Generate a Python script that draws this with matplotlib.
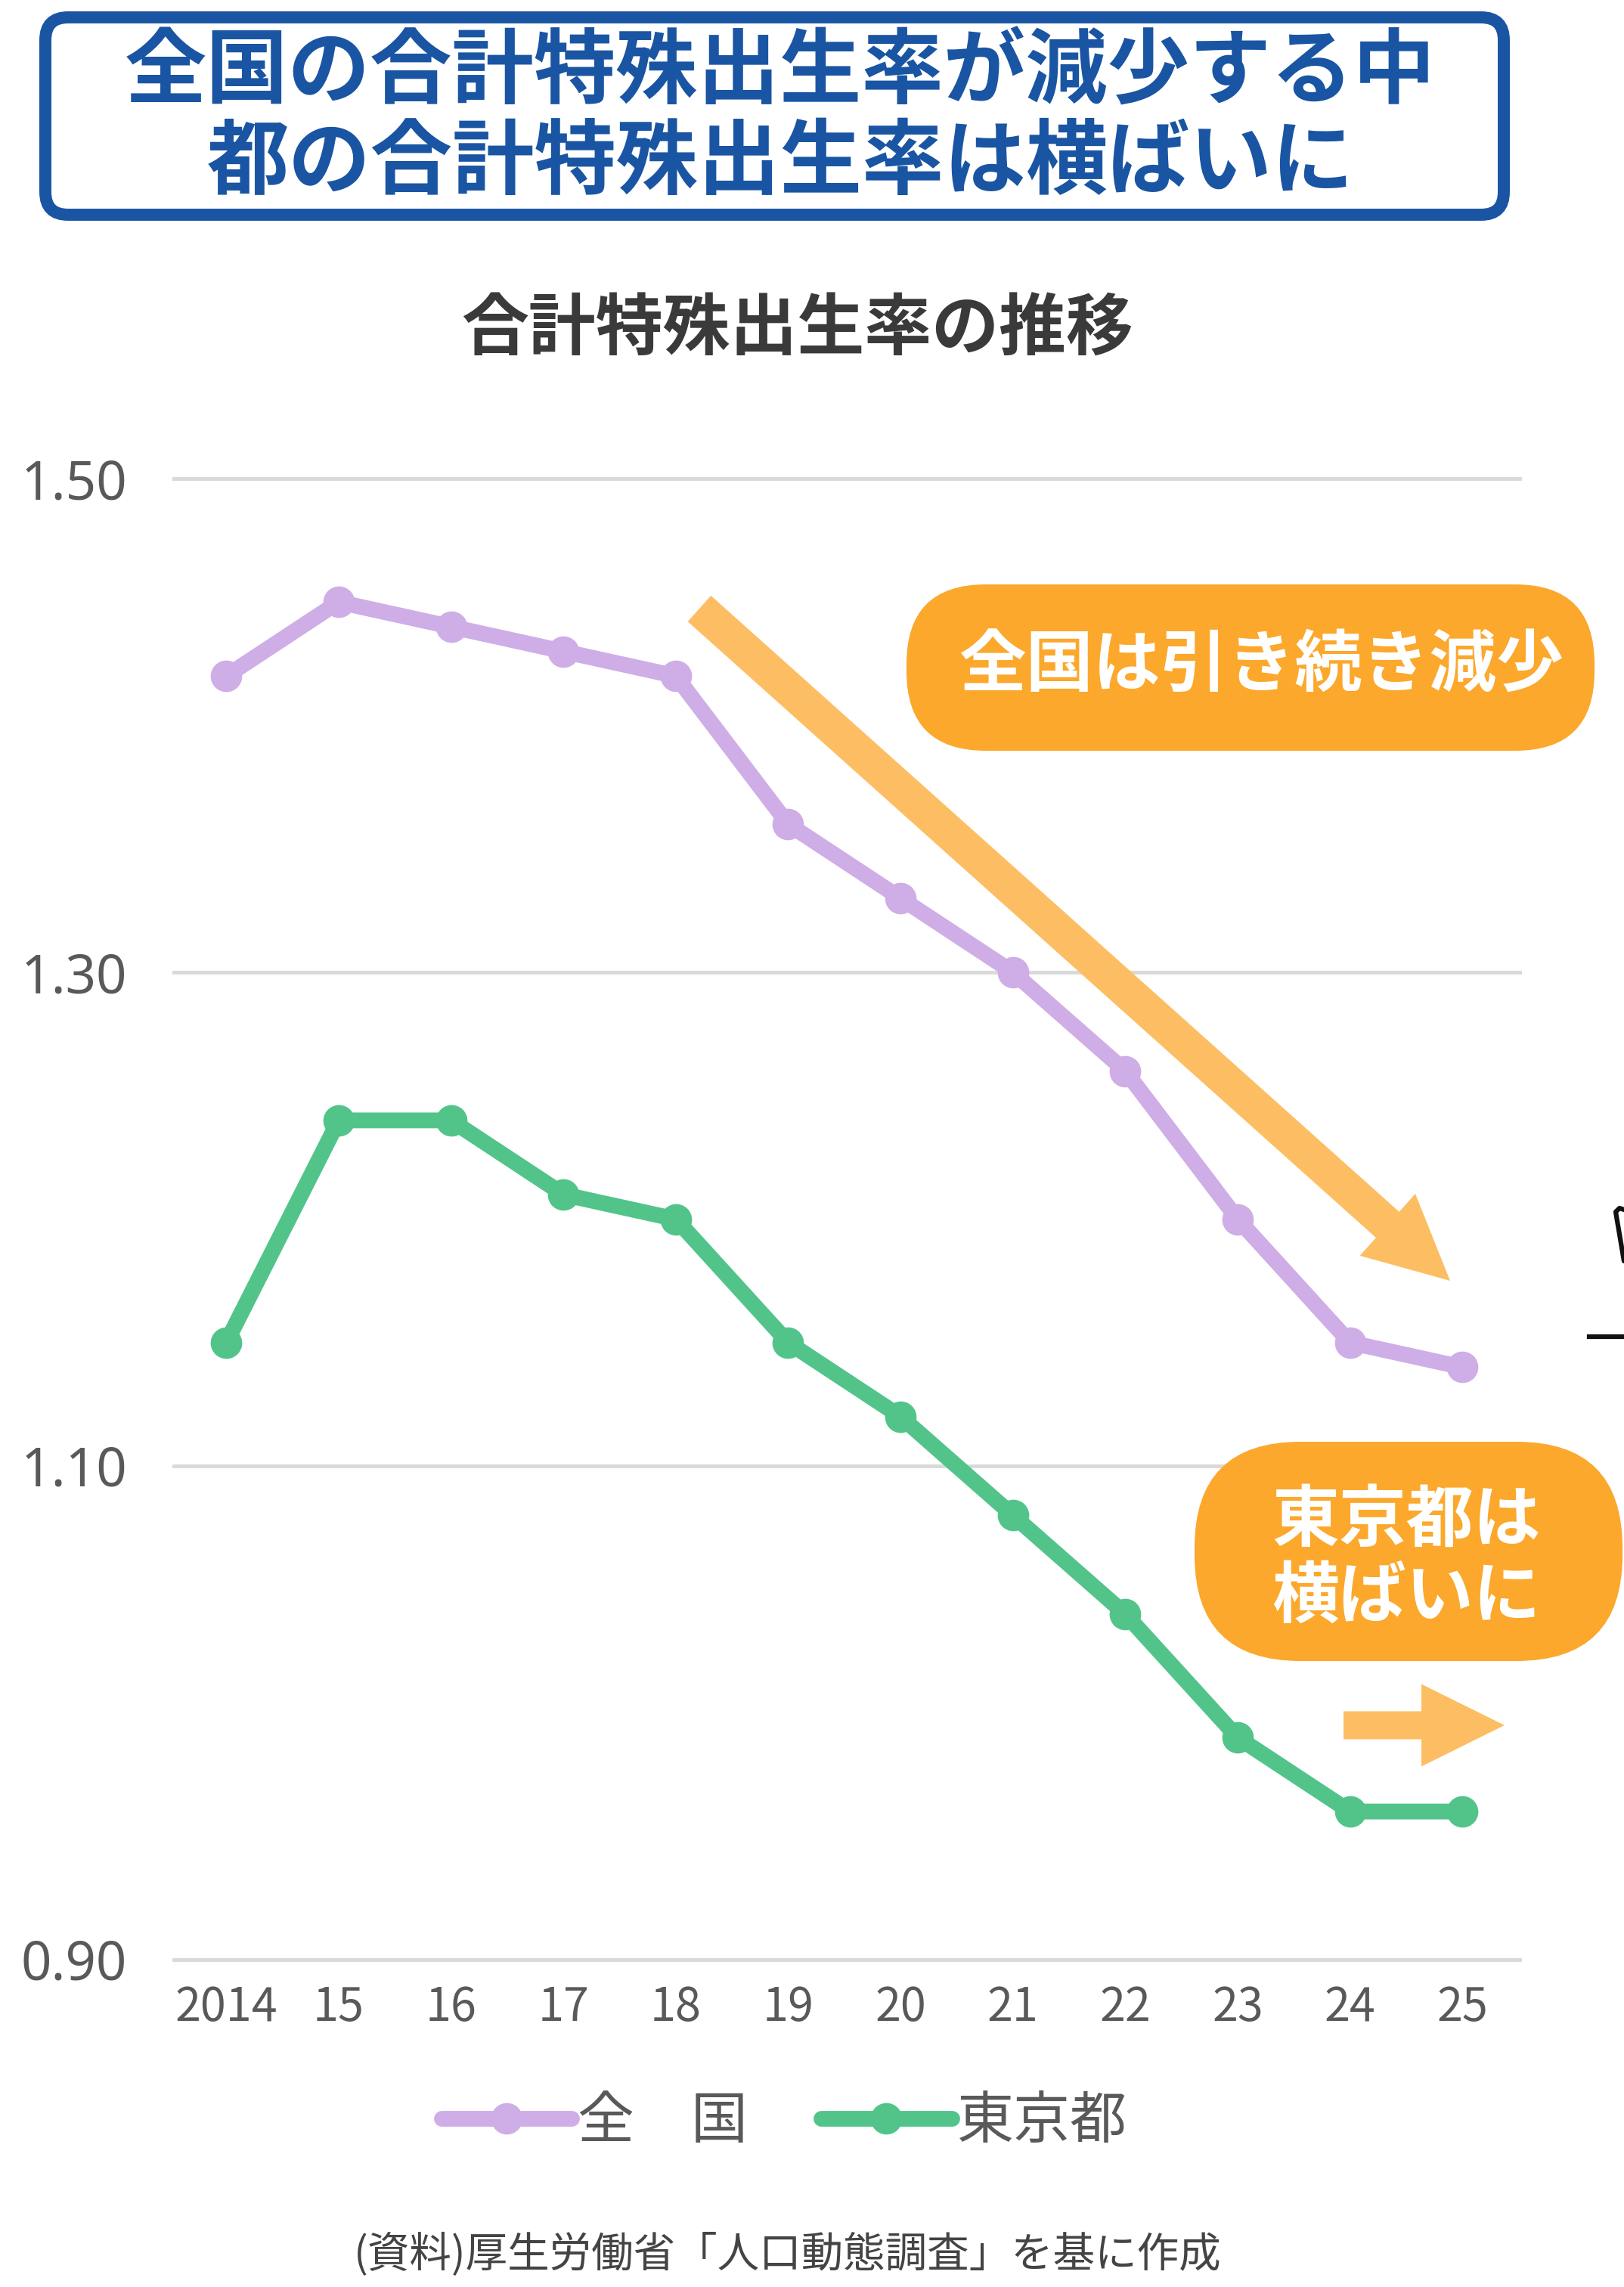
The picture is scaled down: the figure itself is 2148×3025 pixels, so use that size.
import matplotlib
matplotlib.use("Agg")
from matplotlib import pyplot as plt
from matplotlib.patches import FancyBboxPatch, FancyArrow

plt.rcParams["font.family"] = ["Noto Sans CJK JP", "DejaVu Sans"]

# data
YEARS = ["2014", "15", "16", "17", "18", "19", "20", "21", "22", "23", "24", "25"]
ZENKOKU = [1.42, 1.45, 1.44, 1.43, 1.42, 1.36, 1.33, 1.30, 1.26, 1.20, 1.15, 1.14]
TOKYO = [1.15, 1.24, 1.24, 1.21, 1.20, 1.15, 1.12, 1.08, 1.04, 0.99, 0.96, 0.96]
Y_TICKS = [0.90, 1.10, 1.30, 1.50]

TITLE = ["全国の合計特殊出生率が減少する中", "都の合計特殊出生率は横ばいに"]
SUBTITLE = "合計特殊出生率の推移"
SOURCE = "(資料)厚生労働省「人口動態調査」を基に作成"

PURPLE = "#cfade6"
GREEN = "#52c48a"
ORANGE = "#fba82c"
ARROW = "#fdbe63"
BLUE = "#1a55a3"
GREY = "#595959"

W, H = 2148, 3025
fig = plt.figure(figsize=(W / 100, H / 100), dpi=100)
fig.patch.set_facecolor("white")

# main chart
ax = fig.add_axes([0.10615, 0.13775, 0.83101, 0.65838])
x = list(range(len(YEARS)))
l1, = ax.plot(x, ZENKOKU, color=PURPLE, lw=15, marker="o", ms=29,
              solid_capstyle="round", solid_joinstyle="round", zorder=3)
l2, = ax.plot(x, TOKYO, color=GREEN, lw=15, marker="o", ms=29,
              solid_capstyle="round", solid_joinstyle="round", zorder=3)
ax.set_xlim(-0.48, 11.53)
ax.set_ylim(0.895, 1.505)
ax.set_yticks(Y_TICKS)
ax.set_yticklabels(["%.2f" % v for v in Y_TICKS], fontsize=51, color=GREY,
                   family=["Noto Sans", "DejaVu Sans"])
ax.set_xticks(x)
ax.set_xticklabels(YEARS, fontsize=44, color=GREY)
ax.tick_params(axis="y", length=0, pad=43)
ax.tick_params(axis="x", length=0, pad=12)
ax.grid(axis="y", color="#d9d9d9", lw=3.5)
ax.set_axisbelow(True)
for s in ax.spines.values():
    s.set_visible(False)

fig.legend([l1, l2], ["全　国", "東京都"], loc="center",
           bbox_to_anchor=(0.483, 0.0721), ncol=2, frameon=False,
           fontsize=54, handlelength=2.3, handletextpad=0.1,
           columnspacing=1.3, labelcolor=GREY)

# overlay in pixel coordinates for boxes, arrows and texts
ov = fig.add_axes([0, 0, 1, 1])
ov.set_xlim(0, W)
ov.set_ylim(H, 0)
ov.axis("off")

ov.add_patch(FancyBboxPatch((60, 23), 1929, 261, boxstyle="round,pad=0,rounding_size=30",
                            fc="white", ec=BLUE, lw=11.5))
ov.text(1032, 97, TITLE[0], ha="center", va="center", fontsize=78,
        fontweight="bold", color=BLUE)
ov.text(1032, 217, TITLE[1], ha="center", va="center", fontsize=78,
        fontweight="bold", color=BLUE)

ov.text(1055, 437, SUBTITLE, ha="center", va="center", fontsize=64,
        fontweight="bold", color="#3a3a3a")

ov.add_patch(FancyArrow(925, 805, 993, 889, width=46, head_width=110, head_length=111,
                        length_includes_head=True, color=ARROW, lw=0))
ov.add_patch(FancyArrow(1777, 2282, 213, 0, width=37, head_width=109, head_length=110,
                        length_includes_head=True, color=ARROW, lw=0))

ov.add_patch(FancyBboxPatch((1199, 773), 910, 220, boxstyle="round,pad=0,rounding_size=105",
                            fc=ORANGE, ec="none"))
ov.text(1668, 882, "全国は引き続き減少", ha="center", va="center", fontsize=64,
        fontweight="bold", color="white")

ov.add_patch(FancyBboxPatch((1580, 1907), 566, 290, boxstyle="round,pad=0,rounding_size=140",
                            fc=ORANGE, ec="none"))
ov.text(1860, 2012, "東京都は", ha="center", va="center", fontsize=64,
        fontweight="bold", color="white")
ov.text(1860, 2113, "横ばいに", ha="center", va="center", fontsize=64,
        fontweight="bold", color="white")

# stray pen strokes at the right edge
ov.plot([2148, 2142, 2137, 2148], [1600, 1598, 1603, 1668], color="#111111", lw=4.5,
        solid_capstyle="round")
ov.plot([2102, 2148], [1768, 1768], color="#111111", lw=4.5)

ov.text(1042, 2982, SOURCE, ha="center", va="center", fontsize=40, color="#444444")

fig.savefig("out.png", dpi=100)
